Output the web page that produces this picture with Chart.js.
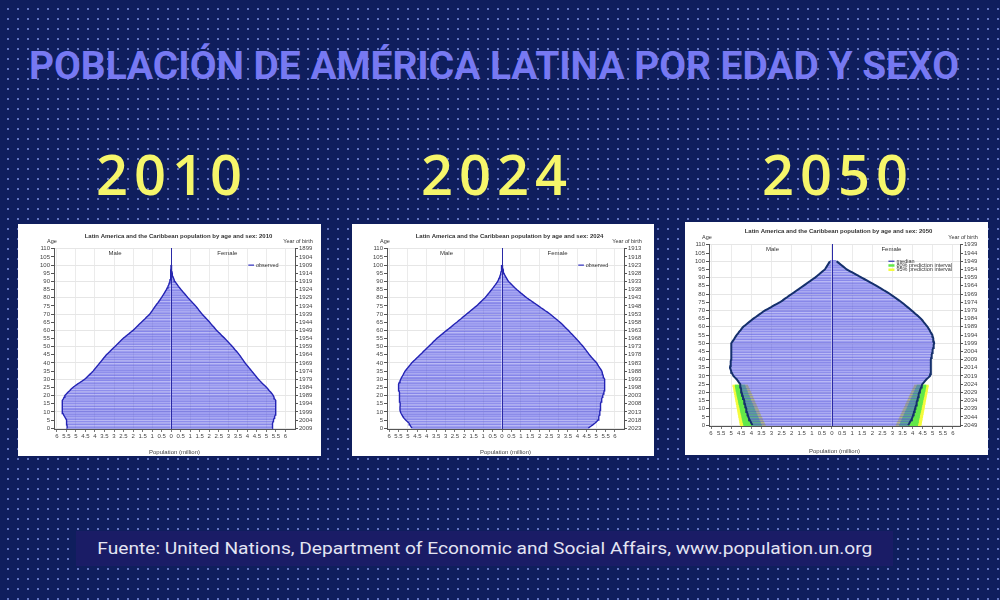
<!DOCTYPE html>
<html lang="es">
<head>
<meta charset="utf-8">
<title>Población de América Latina por edad y sexo</title>
<script src="https://cdn.jsdelivr.net/npm/chart.js@4.4.1/dist/chart.umd.min.js"></script>
<style>
  html, body { margin: 0; padding: 0; }
  body {
    width: 1000px; height: 600px; overflow: hidden; position: relative;
    background-color: #0f1e5d;
    background-image: radial-gradient(circle, rgba(150,170,255,0.6) 0.8px, transparent 1.3px);
    background-size: 10px 10px;
    background-position: 3px 4px;
    font-family: Roboto, "Liberation Sans", sans-serif;
  }
  .title {
    position: absolute; left: 29px; top: 47px; margin: 0;
    font: 700 39px/1 Roboto, sans-serif; color: #7779f2;
    white-space: nowrap; transform-origin: 0 0;
  }
  .year {
    position: absolute; top: 145px; width: 240px; text-align: center;
    font: 600 56px/1 "Open Sans", sans-serif; letter-spacing: 6px; color: #f6f66a;
  }
  .box { position: absolute; background: #fff; }
  .box canvas { display: block; }
  .source {
    position: absolute; left: 76px; top: 531px; width: 817px; height: 35px;
    background: #1a1c66; display: flex; align-items: center; justify-content: center;
  }
  .source span {
    font: 400 16px/1 Roboto, sans-serif; color: #e4e5f3; white-space: nowrap; display: inline-block;
  }
</style>
</head>
<body>
<h1 class="title" id="title">POBLACIÓN DE AMÉRICA LATINA POR EDAD Y SEXO</h1>
<div id="years"></div>
<div class="box" style="left:18px;top:224px;width:303px;height:232px"><canvas id="c2010" width="303" height="232"></canvas></div>
<div class="box" style="left:352px;top:224px;width:302px;height:232px"><canvas id="c2024" width="302" height="232"></canvas></div>
<div class="box" style="left:685px;top:222px;width:303px;height:233px"><canvas id="c2050" width="303" height="233"></canvas></div>
<div class="source"><span id="src">Fuente: United Nations, Department of Economic and Social Affairs, www.population.un.org</span></div>

<script>
// ---- data (million people, single years of age 0..100) ----
const years = [2010, 2024, 2050];
const ages = Array.from({ length: 111 }, (_, i) => String(i)); // 0..110

const male2010 = [
  5.45,5.46,5.47,5.48,5.49, 5.50,5.54,5.59,5.64,5.68,
  5.70,5.72,5.73,5.73,5.72, 5.72,5.71,5.69,5.66,5.62,
  5.58,5.50,5.42,5.33,5.25, 5.16,5.04,4.92,4.79,4.66,
  4.54,4.45,4.36,4.27,4.18, 4.10,4.03,3.96,3.89,3.82,
  3.75,3.68,3.61,3.54,3.47, 3.40,3.31,3.22,3.14,3.05,
  2.96,2.87,2.79,2.70,2.62, 2.53,2.42,2.32,2.21,2.11,
  2.00,1.91,1.82,1.74,1.65, 1.56,1.47,1.38,1.30,1.21,
  1.12,1.06,1.00,0.94,0.88, 0.82,0.76,0.69,0.63,0.57,
  0.51,0.46,0.40,0.35,0.30, 0.25,0.21,0.17,0.13,0.10,
  0.07,0.06,0.04,0.03,0.025, 0.02,0.015,0.01,0.007,0.005,
  0.003
];
const female2010 = [
  5.30,5.31,5.32,5.33,5.35, 5.37,5.40,5.43,5.46,5.48,
  5.49,5.50,5.50,5.50,5.49, 5.49,5.48,5.46,5.43,5.40,
  5.36,5.30,5.23,5.15,5.08, 5.01,4.92,4.83,4.74,4.66,
  4.58,4.51,4.44,4.37,4.30, 4.23,4.16,4.09,4.02,3.95,
  3.88,3.82,3.76,3.70,3.64, 3.58,3.51,3.44,3.36,3.29,
  3.22,3.14,3.06,2.98,2.90, 2.82,2.73,2.64,2.56,2.47,
  2.38,2.31,2.24,2.16,2.09, 2.02,1.94,1.86,1.78,1.70,
  1.62,1.55,1.48,1.42,1.35, 1.28,1.20,1.12,1.04,0.96,
  0.88,0.81,0.74,0.66,0.59, 0.52,0.45,0.38,0.32,0.26,
  0.20,0.16,0.12,0.09,0.07, 0.05,0.04,0.03,0.02,0.015,
  0.01
];
const male2024 = [
  4.78,4.84,4.89,4.93,5.02, 5.12,5.20,5.26,5.31,5.36,
  5.40,5.42,5.42,5.42,5.41, 5.41,5.42,5.43,5.43,5.44,
  5.45,5.46,5.47,5.48,5.49, 5.50,5.50,5.49,5.46,5.42,
  5.38,5.34,5.29,5.24,5.20, 5.15,5.08,5.01,4.94,4.87,
  4.80,4.71,4.62,4.53,4.44, 4.35,4.26,4.18,4.09,4.00,
  3.91,3.82,3.73,3.65,3.56, 3.47,3.36,3.26,3.15,3.05,
  2.94,2.83,2.72,2.62,2.51, 2.40,2.30,2.19,2.09,1.98,
  1.88,1.77,1.67,1.56,1.46, 1.35,1.26,1.17,1.08,0.99,
  0.90,0.83,0.76,0.69,0.62, 0.55,0.48,0.42,0.35,0.29,
  0.23,0.19,0.16,0.12,0.09, 0.07,0.05,0.04,0.03,0.02,
  0.01
];
const female2024 = [
  4.58,4.70,4.82,4.93,5.02, 5.10,5.13,5.15,5.17,5.19,
  5.20,5.21,5.22,5.23,5.24, 5.24,5.26,5.28,5.31,5.33,
  5.35,5.38,5.41,5.43,5.45, 5.47,5.47,5.46,5.45,5.44,
  5.42,5.40,5.38,5.35,5.33, 5.30,5.25,5.19,5.13,5.08,
  5.03,4.95,4.87,4.79,4.72, 4.64,4.58,4.51,4.45,4.38,
  4.32,4.24,4.16,4.09,4.01, 3.93,3.85,3.77,3.68,3.60,
  3.52,3.43,3.34,3.26,3.17, 3.08,2.97,2.87,2.76,2.66,
  2.55,2.43,2.30,2.18,2.05, 1.93,1.81,1.68,1.56,1.43,
  1.31,1.20,1.10,0.99,0.89, 0.78,0.69,0.60,0.52,0.43,
  0.34,0.29,0.24,0.19,0.14, 0.10,0.08,0.06,0.04,0.03,
  0.02
];
const male2050 = [
  3.95,3.99,4.03,4.07,4.11, 4.15,4.17,4.19,4.22,4.24,
  4.26,4.28,4.30,4.32,4.34, 4.36,4.38,4.41,4.43,4.46,
  4.48,4.50,4.51,4.53,4.54, 4.56,4.61,4.67,4.73,4.81,
  4.89,4.93,4.97,5.00,5.03, 5.06,5.05,5.04,5.02,5.01,
  5.00,5.00,5.00,5.00,5.00, 5.00,5.00,4.99,4.99,4.98,
  4.98,4.94,4.88,4.83,4.78, 4.73,4.66,4.60,4.53,4.47,
  4.40,4.30,4.20,4.10,4.00, 3.90,3.78,3.67,3.55,3.44,
  3.32,3.17,3.02,2.88,2.73, 2.58,2.46,2.35,2.23,2.12,
  2.00,1.88,1.77,1.65,1.54, 1.42,1.30,1.19,1.07,0.96,
  0.84,0.74,0.64,0.55,0.45, 0.35,0.30,0.25,0.20,0.15,
  0.10
];
const female2050 = [
  3.78,3.83,3.87,3.92,3.96, 4.00,4.02,4.05,4.07,4.10,
  4.12,4.14,4.17,4.19,4.21, 4.23,4.25,4.27,4.29,4.31,
  4.33,4.36,4.39,4.42,4.45, 4.48,4.55,4.62,4.69,4.78,
  4.86,4.87,4.88,4.89,4.90, 4.91,4.91,4.91,4.91,4.91,
  4.91,4.92,4.94,4.95,4.97, 4.98,5.00,5.02,5.04,5.05,
  5.07,5.05,5.03,5.02,5.00, 4.98,4.93,4.88,4.84,4.79,
  4.74,4.67,4.61,4.54,4.48, 4.41,4.32,4.23,4.13,4.04,
  3.95,3.85,3.75,3.65,3.55, 3.45,3.34,3.22,3.11,2.99,
  2.88,2.75,2.61,2.48,2.34, 2.21,2.06,1.92,1.77,1.62,
  1.47,1.32,1.18,1.03,0.88, 0.73,0.63,0.53,0.43,0.33,
  0.23
];

// 2050 prediction intervals, ages 0..24 (outer / inner limits)
const male95Out = [4.55,4.57,4.58,4.60,4.61,4.63,4.64,4.66,4.67,4.69,4.70,4.72,4.73,4.75,4.76,4.78,4.79,4.81,4.82,4.84,4.85,4.87,4.88,4.90,4.92];
const male95In  = [3.31,3.35,3.39,3.43,3.46,3.50,3.54,3.57,3.61,3.64,3.68,3.71,3.75,3.78,3.82,3.85,3.89,3.92,3.96,3.99,4.03,4.07,4.10,4.14,4.18];
const male80Out = [4.38,4.40,4.42,4.44,4.46,4.47,4.49,4.51,4.53,4.55,4.56,4.58,4.60,4.62,4.64,4.65,4.67,4.69,4.71,4.72,4.74,4.76,4.77,4.79,4.80];
const male80In  = [3.50,3.54,3.57,3.61,3.64,3.68,3.71,3.75,3.78,3.82,3.85,3.88,3.92,3.95,3.99,4.02,4.05,4.09,4.12,4.16,4.19,4.22,4.25,4.29,4.32];
const female95Out = [4.42,4.44,4.45,4.47,4.48,4.50,4.51,4.53,4.54,4.56,4.57,4.59,4.60,4.62,4.63,4.65,4.66,4.68,4.69,4.71,4.72,4.74,4.75,4.77,4.78];
const female95In  = [3.18,3.22,3.26,3.30,3.33,3.37,3.41,3.45,3.48,3.52,3.56,3.60,3.64,3.67,3.71,3.75,3.79,3.82,3.86,3.90,3.94,3.97,4.01,4.05,4.09];
const female80Out = [4.25,4.27,4.29,4.30,4.32,4.34,4.35,4.37,4.39,4.41,4.43,4.44,4.46,4.48,4.50,4.51,4.53,4.55,4.57,4.58,4.60,4.62,4.63,4.65,4.66];
const female80In  = [3.35,3.39,3.42,3.46,3.49,3.53,3.57,3.60,3.64,3.67,3.71,3.75,3.78,3.82,3.85,3.89,3.93,3.96,4.00,4.03,4.07,4.11,4.14,4.18,4.22];

// ---- page text ----
document.getElementById('years').innerHTML = years.map((y, i) =>
  `<div class="year" style="left:${[172, 497, 838][i] - 120}px">${y}</div>`).join('');

function fitWidth(el, w) {
  const r = el.getBoundingClientRect().width;
  el.style.transform = `scaleX(${w / r})`;
}
fitWidth(document.getElementById('title'), 930);
fitWidth(document.getElementById('src'), 775);

// ---- charts ----
Chart.defaults.font.family = '"Liberation Sans", Arial, sans-serif';
Chart.defaults.font.size = 6;
Chart.defaults.color = '#444';

const textPlugin = {
  id: 'pyramidText',
  afterDatasetsDraw(chart) {
    // dark zero line over the bars, up to the top of the age axis
    const { ctx, chartArea: a, scales: { x } } = chart;
    const px = Math.round(x.getPixelForValue(0)) + 0.5;
    ctx.save();
    ctx.strokeStyle = '#2a2aa6';
    ctx.lineWidth = 1;
    ctx.beginPath();
    ctx.moveTo(px, a.top);
    ctx.lineTo(px, a.bottom);
    ctx.stroke();
    ctx.restore();
  },
  afterDraw(chart, args, o) {
    const { ctx, chartArea: a, scales: { x, y } } = chart;
    ctx.save();
    ctx.fillStyle = '#333';
    ctx.textAlign = 'center';
    ctx.textBaseline = 'middle';
    ctx.font = 'bold 6px "Liberation Sans", Arial';
    ctx.fillText(o.title, (a.left + a.right) / 2 + 4, o.titleY);
    ctx.font = '5.5px "Liberation Sans", Arial';
    ctx.fillText('Age', a.left - 2, a.top - 7);
    ctx.fillText('Year of birth', a.right + 3, a.top - 7);
    ctx.font = '6px "Liberation Sans", Arial';
    ctx.fillText('Male', x.getPixelForValue(-2.95), y.getPixelForValue(107));
    ctx.fillText('Female', x.getPixelForValue(2.95), y.getPixelForValue(107));
    ctx.font = '5.5px "Liberation Sans", Arial';
    ctx.textAlign = 'left';
    o.legend.forEach((it, i) => {
      const py = y.getPixelForValue(o.legendAge - i * 2.6);
      ctx.strokeStyle = it.color;
      ctx.lineWidth = it.width;
      ctx.beginPath();
      ctx.moveTo(x.getPixelForValue(o.legendX), py);
      ctx.lineTo(x.getPixelForValue(o.legendX + 0.3), py);
      ctx.stroke();
      ctx.fillText(it.text, x.getPixelForValue(o.legendX + 0.4), py);
    });
    ctx.restore();
  }
};

function pyramid(id, year, male, female, lay, bands) {
  const ctx = document.getElementById(id).getContext('2d');
  const birthYears = ages.map(a => String(year - 1 - Number(a)));
  const datasets = [];
  if (bands) {
    datasets.push({ label: '95% m', data: bands.m95o.map((v, i) => [-v, -bands.m95i[i]]), backgroundColor: '#f4fb3c', order: 6 });
    datasets.push({ label: '95% f', data: bands.f95o.map((v, i) => [bands.f95i[i], v]), backgroundColor: '#f4fb3c', order: 6 });
    datasets.push({ label: '80% m', data: bands.m80o.map((v, i) => [-v, -bands.m80i[i]]), backgroundColor: '#62e84a', order: 5 });
    datasets.push({ label: '80% f', data: bands.f80o.map((v, i) => [bands.f80i[i], v]), backgroundColor: '#62e84a', order: 5 });
  }
  const barFill = 'rgba(100,100,235,0.46)';
  const barEdge = 'rgba(60,60,210,0.5)';
  datasets.push({ label: 'Male', data: male.map(v => -v), backgroundColor: barFill, borderColor: barEdge, borderWidth: { top: 0.5 }, order: 3 });
  datasets.push({ label: 'Female', data: female, backgroundColor: barFill, borderColor: barEdge, borderWidth: { top: 0.5 }, order: 3 });
  datasets.push({ type: 'line', indexAxis: 'y', label: 'male line', data: male.map(v => -v), borderColor: lay.lineColor, borderWidth: lay.lineWidth, pointRadius: 0, order: 1 });
  datasets.push({ type: 'line', indexAxis: 'y', label: 'female line', data: female, borderColor: lay.lineColor, borderWidth: lay.lineWidth, pointRadius: 0, order: 1 });
  datasets.forEach(d => { if (d.type !== 'line') { d.grouped = false; d.barPercentage = 1; d.categoryPercentage = 1; } });

  const every5 = (c, on, off) => (c.index % 5 === 0 ? on : off);
  return new Chart(ctx, {
    type: 'bar',
    data: { labels: ages, datasets },
    plugins: [textPlugin],
    options: {
      indexAxis: 'y',
      responsive: false,
      animation: false,
      layout: { padding: { top: lay.top, left: 0, right: 0, bottom: 0 } },
      plugins: {
        legend: { display: false },
        tooltip: { enabled: false },
        pyramidText: {
          title: 'Latin America and the Caribbean population by age and sex: ' + year,
          titleY: lay.titleY, legend: lay.legend, legendX: lay.legendX, legendAge: 100
        }
      },
      scales: {
        x: {
          type: 'linear', min: lay.min, max: lay.max,
          ticks: {
            stepSize: 0.5, includeBounds: false, autoSkip: false, maxRotation: 0, padding: 1,
            callback: v => (Math.abs(v) > 6.001 ? '' : String(Math.round(Math.abs(v) * 10) / 10))
          },
          grid: {
            color: c => (Number.isInteger(c.tick.value) && Math.abs(c.tick.value) <= 6 ? '#e6e6e6' : 'transparent'),
            lineWidth: 0.8,
            tickColor: c => (Math.abs(c.tick.value) > 6.001 ? 'transparent' : '#555'),
            tickLength: 3
          },
          border: { color: '#555' },
          title: { display: true, text: 'Population (million)', padding: 0, font: { size: 6 } },
          afterFit: s => { s.height = lay.xh; }
        },
        y: {
          type: 'category', reverse: true, offset: true,
          grid: {
            offset: false, tickLength: 3,
            color: c => (c.index % 10 === 0 ? '#e6e6e6' : 'transparent'),
            tickColor: c => every5(c, '#555', 'transparent')
          },
          ticks: { autoSkip: false, padding: 1, callback: (v, i) => (i % 5 === 0 ? ages[i] : '') },
          border: { color: '#555' },
          afterFit: s => { s.width = lay.yw; }
        },
        y2: {
          type: 'category', position: 'right', labels: birthYears, reverse: true, offset: true,
          grid: { drawOnChartArea: false, offset: false, tickLength: 3, tickColor: c => every5(c, '#555', 'transparent') },
          ticks: { autoSkip: false, padding: 1, callback: (v, i) => (i % 5 === 0 ? birthYears[i] : '') },
          border: { color: '#555' },
          afterFit: s => { s.width = lay.y2w; }
        }
      }
    }
  });
}

const observed = [{ text: 'observed', color: '#3030c0', width: 1.2 }];

pyramid('c2010', 2010, male2010, female2010, {
  top: 24, yw: 36, y2w: 26, xh: 27, min: -6.15, max: 6.5, titleY: 12,
  lineColor: '#2424b4', lineWidth: 1.4, legend: observed, legendX: 4.05
});
pyramid('c2024', 2024, male2024, female2024, {
  top: 24, yw: 35, y2w: 30, xh: 27, min: -6.11, max: 6.48, titleY: 12,
  lineColor: '#2424b4', lineWidth: 1.4, legend: observed, legendX: 4.05
});
pyramid('c2050', 2050, male2050, female2050, {
  top: 22, yw: 24, y2w: 28, xh: 29, min: -6.1, max: 6.35, titleY: 9,
  lineColor: '#15306c', lineWidth: 2,
  legend: [
    { text: 'median', color: '#2a2ab0', width: 1.2 },
    { text: '80% prediction interval', color: '#62e84a', width: 2.5 },
    { text: '95% prediction interval', color: '#f4fb3c', width: 2.5 }
  ],
  legendX: 2.8
}, {
  m95o: male95Out, m95i: male95In, m80o: male80Out, m80i: male80In,
  f95o: female95Out, f95i: female95In, f80o: female80Out, f80i: female80In
});
</script>
</body>
</html>
